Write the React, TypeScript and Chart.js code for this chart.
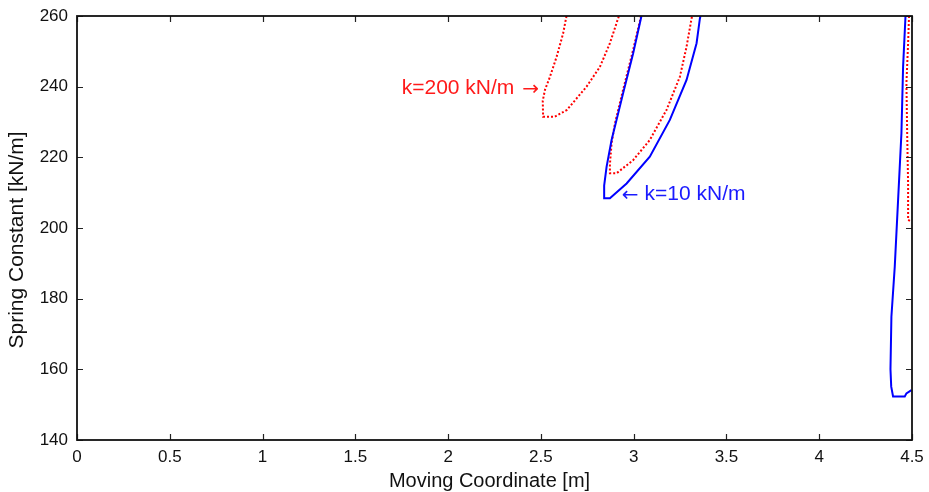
import React, { useEffect, useRef } from "react";
import { Chart, registerables } from "chart.js";

Chart.register(...registerables);

const xTicks = [0, 0.5, 1, 1.5, 2, 2.5, 3, 3.5, 4, 4.5];
const yTicks = [140, 160, 180, 200, 220, 240, 260];

// k = 200 kN/m (red, dotted)
const red1X = [2.638, 2.62, 2.585, 2.549, 2.522, 2.51, 2.512, 2.575, 2.64, 2.746, 2.818, 2.872, 2.916, 2.921];
const red1Y = [260, 255.1, 248.5, 242.8, 239.1, 236, 231.5, 231.5, 233.4, 240, 245.6, 252.3, 259.3, 260];
const red2X = [3.04, 2.997, 2.943, 2.899, 2.881, 2.872, 2.872, 2.908, 2.997, 3.087, 3.177, 3.249, 3.285, 3.312, 3.315];
const red2Y = [260, 250.4, 239.1, 229.6, 224, 218, 215.5, 215.5, 219.2, 224.9, 233.4, 242.8, 251.3, 259.3, 260];
const red3X = [4.484, 4.479, 4.47, 4.474, 4.479, 4.479, 4.497];
const red3Y = [260, 252.3, 241, 226.8, 212.6, 202.3, 201.8];

// k = 10 kN/m (blue, solid)
const blue1X = [3.042, 2.997, 2.943, 2.881, 2.854, 2.841, 2.841, 2.872, 2.962, 3.087, 3.195, 3.285, 3.339, 3.357, 3.36];
const blue1Y = [260, 249.4, 238.1, 224.9, 217.3, 212, 208.4, 208.4, 212.6, 220.2, 230.6, 241.9, 252.3, 259.3, 260];
const blue2X = [4.465, 4.452, 4.443, 4.425, 4.407, 4.389, 4.384, 4.388, 4.398, 4.461, 4.47, 4.497];
const blue2Y = [260, 245.6, 226.8, 207.9, 189, 174.9, 160, 155.1, 152.3, 152.3, 153.2, 154.1];

const labelRed = { text: "k=200 kN/m", arrow: "\u2192", x: 1.75, y: 239.5 };
const labelBlue = { text: "k=10 kN/m", arrow: "\u2190", x: 2.936, y: 209.5 };
const xTitle = "Moving Coordinate [m]";
const yTitle = "Spring Constant [kN/m]";

const toPts = (xs: number[], ys: number[]) => xs.map((x, i) => ({ x, y: ys[i] }));

const FONT = "'Liberation Sans', Arial, sans-serif";
const ARROW_FONT = "'DejaVu Sans', sans-serif";

export default function App() {
  const ref = useRef<HTMLCanvasElement | null>(null);
  useEffect(() => {
    document.body.style.margin = "0";
    const canvas = ref.current;
    if (!canvas) return;

    const boxPlugin = {
      id: "boxTicks",
      afterDraw(chart: any) {
        const { ctx, chartArea } = chart;
        const xs = chart.scales.x;
        const ys = chart.scales.y;
        ctx.save();
        ctx.strokeStyle = "#222";
        ctx.lineWidth = 1.2;
        const tl = 6;
        ctx.beginPath();
        xTicks.forEach((v) => {
          const px = Math.round(xs.getPixelForValue(v)) + 0.5;
          ctx.moveTo(px, chartArea.bottom);
          ctx.lineTo(px, chartArea.bottom - tl);
          ctx.moveTo(px, chartArea.top);
          ctx.lineTo(px, chartArea.top + tl);
        });
        yTicks.forEach((v) => {
          const py = Math.round(ys.getPixelForValue(v)) + 0.5;
          ctx.moveTo(chartArea.left, py);
          ctx.lineTo(chartArea.left + tl, py);
          ctx.moveTo(chartArea.right, py);
          ctx.lineTo(chartArea.right - tl, py);
        });
        ctx.stroke();
        ctx.lineWidth = 1.8;
        ctx.strokeStyle = "#111";
        ctx.strokeRect(chartArea.left, chartArea.top, chartArea.right - chartArea.left, chartArea.bottom - chartArea.top);

        // annotations
        ctx.textBaseline = "middle";
        ctx.textAlign = "left";
        const tf = "21px " + FONT;
        const af = "20px " + ARROW_FONT;
        // red: text then arrow
        let px = xs.getPixelForValue(labelRed.x);
        let py = ys.getPixelForValue(labelRed.y);
        ctx.fillStyle = "#ff1a1a";
        ctx.font = tf;
        ctx.fillText(labelRed.text, px, py);
        const w = ctx.measureText(labelRed.text + " ").width;
        ctx.font = af;
        ctx.fillText(labelRed.arrow, px + w + 2, py + 1);
        // blue: arrow then text
        px = xs.getPixelForValue(labelBlue.x);
        py = ys.getPixelForValue(labelBlue.y);
        ctx.fillStyle = "#1a1aff";
        ctx.font = af;
        ctx.fillText(labelBlue.arrow, px, py + 1);
        const aw = ctx.measureText(labelBlue.arrow).width;
        ctx.font = tf;
        ctx.fillText(labelBlue.text, px + aw + 6, py);

        // axis titles
        ctx.fillStyle = "#111";
        ctx.font = "20px " + FONT;
        ctx.textAlign = "center";
        ctx.fillText(xTitle, (chartArea.left + chartArea.right) / 2 - 5, chartArea.bottom + 41);
        ctx.save();
        ctx.translate(17, (chartArea.top + chartArea.bottom) / 2 + 12);
        ctx.rotate(-Math.PI / 2);
        ctx.font = "21px " + FONT;
        ctx.fillText(yTitle, 0, 0);
        ctx.restore();
        ctx.restore();
      },
    };

    const redStyle = {
      borderColor: "#ff0000",
      borderWidth: 2,
      borderDash: [2, 2],
      pointRadius: 0,
      showLine: true,
      fill: false,
      tension: 0,
    };
    const blueStyle = {
      borderColor: "#0000ff",
      borderWidth: 2,
      pointRadius: 0,
      showLine: true,
      fill: false,
      tension: 0,
    };

    const chart = new Chart(canvas, {
      type: "scatter",
      data: {
        datasets: [
          { ...blueStyle, data: toPts(blue1X, blue1Y) },
          { ...blueStyle, data: toPts(blue2X, blue2Y) },
          { ...redStyle, data: toPts(red1X, red1Y) },
          { ...redStyle, data: toPts(red2X, red2Y) },
          { ...redStyle, data: toPts(red3X, red3Y) },
        ],
      } as any,
      options: {
        animation: false,
        responsive: false,
        maintainAspectRatio: false,
        layout: { padding: { top: 16, right: 17, left: 0, bottom: 0 } },
        plugins: { legend: { display: false }, tooltip: { enabled: false } },
        scales: {
          x: {
            type: "linear",
            min: 0,
            max: 4.5,
            afterBuildTicks: (s: any) => {
              s.ticks = xTicks.map((v) => ({ value: v }));
            },
            afterFit: (s: any) => {
              s.height = 52;
              s.paddingLeft = 0;
              s.paddingRight = 0;
            },
            grid: { display: false, drawTicks: false },
            border: { display: false },
            ticks: {
              padding: 7,
              color: "#111",
              font: { family: FONT, size: 17 },
              callback: (v: any) => String(v),
              maxRotation: 0,
              autoSkip: false,
            },
            title: { display: false },
          },
          y: {
            type: "linear",
            min: 140,
            max: 260,
            afterBuildTicks: (s: any) => {
              s.ticks = yTicks.map((v) => ({ value: v }));
            },
            afterFit: (s: any) => {
              s.width = 77;
              s.paddingTop = 0;
              s.paddingBottom = 0;
            },
            grid: { display: false, drawTicks: false },
            border: { display: false },
            ticks: {
              padding: 9,
              color: "#111",
              font: { family: FONT, size: 17 },
              autoSkip: false,
            },
            title: { display: false },
          },
        },
      } as any,
      plugins: [boxPlugin],
    });
    return () => chart.destroy();
  }, []);

  return (
    <div style={{ width: 929, height: 492, position: "relative", background: "#fff" }}>
      <canvas ref={ref} width={929} height={492} style={{ width: 929, height: 492, display: "block" }} />
    </div>
  );
}
